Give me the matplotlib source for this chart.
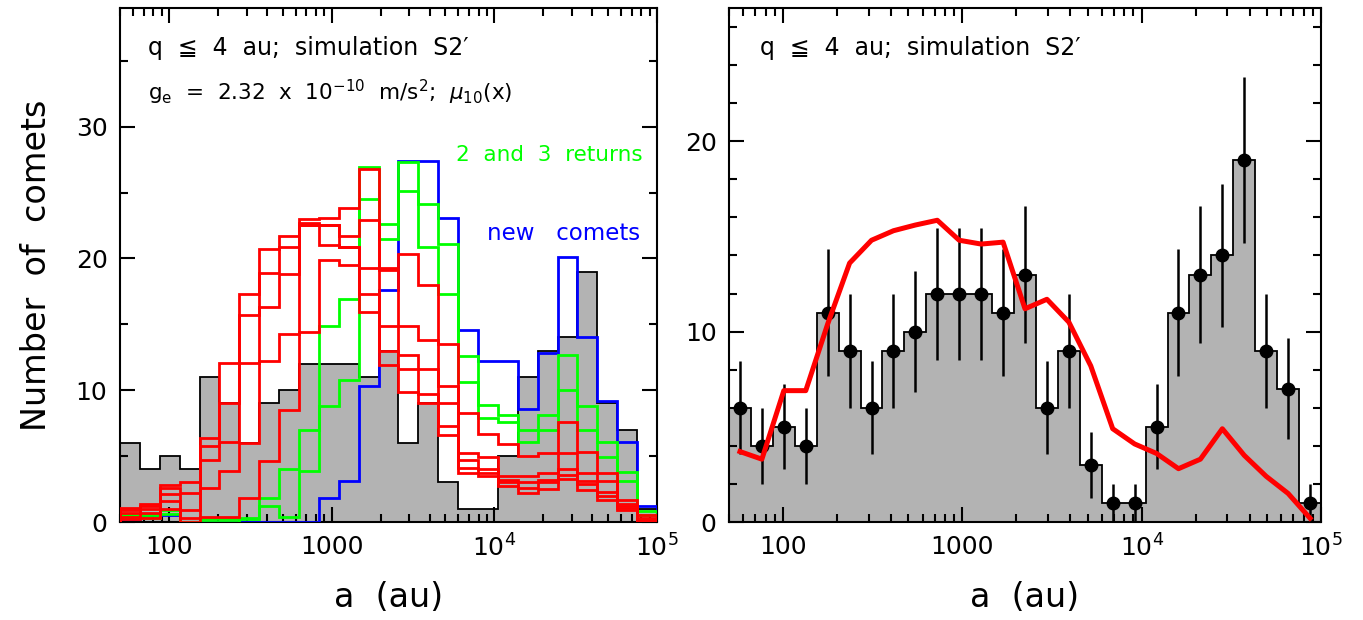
import numpy as np
import matplotlib
matplotlib.use('Agg')
import matplotlib.pyplot as plt
from matplotlib.ticker import FixedLocator, LogLocator, NullFormatter, MultipleLocator

# 27 log bins from 50 au to 1e5 au
edges = np.logspace(np.log10(50), 5, 28)
centers = np.sqrt(edges[:-1] * edges[1:])

observed = [6, 4, 5, 4, 11, 9, 6, 9, 10, 12, 12, 12, 11, 13, 6, 9, 3, 1, 1, 5, 11, 13, 14, 19, 9, 7, 1]

new_comets = [0.2, 0.5, 0.5, 0, 0, 0, 0, 0, 0, 0, 1.8, 3.1, 10.3, 17.6, 27.4, 27.4, 23.1, 14.6,
              12.2, 12.2, 8.6, 12.8, 20.1, 14.0, 9.2, 6.1, 1.2]
returns_2 = [0.5, 0.5, 0.9, 0, 0.2, 0.2, 0.3, 1.8, 4.0, 7.0, 14.9, 16.9, 26.9, 22.6, 27.3, 24.1, 21.1,
             12.6, 8.9, 8.1, 7.0, 8.1, 12.7, 8.8, 6.1, 3.8, 0.8]
returns_3 = [0.3, 0.3, 0.6, 0, 0, 0, 0.2, 1.2, 0.4, 3.9, 8.8, 10.8, 24.5, 21.5, 25.1, 20.9, 17.3,
             10.6, 7.9, 7.6, 6.1, 7.0, 10.0, 7.0, 4.9, 3.1, 0.5]

red_1 = [1.1, 1.4, 2.8, 3.0, 6.4, 12.1, 17.3, 20.7, 21.7, 23.0, 23.1, 23.8, 26.8, 19.3, 20.3, 18.0,
         13.5, 8.3, 6.7, 5.9, 5.0, 5.2, 7.6, 5.3, 3.7, 1.7, 0.5]
red_2 = [0.9, 1.2, 2.6, 2.2, 5.8, 9.0, 15.7, 18.9, 20.9, 22.7, 22.5, 21.7, 22.9, 19.1, 14.9, 13.8,
         10.3, 5.2, 4.9, 3.5, 3.5, 3.7, 5.2, 3.7, 3.1, 1.4, 0.3]
red_3 = [0.7, 1.0, 2.1, 0.9, 4.7, 6.1, 12.1, 16.3, 18.8, 22.5, 22.5, 20.9, 19.3, 14.9, 12.7, 11.6,
         9.0, 4.7, 4.0, 3.2, 3.0, 3.2, 4.0, 3.1, 2.3, 1.2, 0.2]
red_4 = [0.4, 0.7, 1.6, 0.3, 2.6, 3.85, 6.0, 12.2, 14.3, 22.5, 21.0, 20.9, 17.3, 13.0, 11.6, 9.7,
         7.3, 4.1, 3.7, 3.0, 2.6, 3.0, 3.6, 2.9, 2.0, 1.1, 0.1]
red_5 = [0.2, 0.3, 1.0, 0.0, 0.4, 0.4, 1.8, 4.6, 8.5, 14.4, 19.9, 19.5, 15.9, 11.9, 9.9, 9.0,
         6.6, 3.7, 3.5, 2.7, 2.2, 2.5, 3.3, 2.4, 1.7, 0.9, 0.0]

model = [3.7, 3.3, 6.9, 6.9, 10.4, 13.6, 14.8, 15.3, 15.6, 15.85, 14.8, 14.6, 14.7, 11.2, 11.7, 10.5,
         8.2, 4.9, 4.1, 3.6, 2.8, 3.3, 4.9, 3.5, 2.4, 1.5, 0.2]

xticks = [100, 1000, 1e4, 1e5]
xticklabels = ['100', '1000', r'$10^4$', r'$10^5$']

plt.rcParams['font.family'] = ['DejaVu Sans']
plt.rcParams['mathtext.fontset'] = 'dejavusans'

fig = plt.figure(figsize=(13.63, 6.2), dpi=100)
ax1 = fig.add_axes([120 / 1363, 98 / 620, 537 / 1363, 514 / 620])
ax2 = fig.add_axes([729 / 1363, 98 / 620, 592 / 1363, 514 / 620])


def style_axis(ax, ymax, ymajor, yminor):
    ax.set_xscale('log')
    ax.set_xlim(50, 1e5)
    ax.set_ylim(0, ymax)
    ax.xaxis.set_major_locator(FixedLocator(xticks))
    ax.set_xticklabels(xticklabels)
    ax.xaxis.set_minor_locator(LogLocator(base=10, subs=np.arange(2, 10)))
    ax.xaxis.set_minor_formatter(NullFormatter())
    ax.yaxis.set_major_locator(MultipleLocator(ymajor))
    ax.yaxis.set_minor_locator(MultipleLocator(yminor))
    ax.tick_params(which='both', direction='in', top=True, right=True, width=1.5, labelsize=18)
    ax.tick_params(which='major', length=11)
    ax.tick_params(which='minor', length=6)
    ax.tick_params(axis='x', pad=9)
    ax.tick_params(axis='y', pad=9)
    for s in ax.spines.values():
        s.set_linewidth(1.5)
    ax.set_xlabel('a  (au)', fontsize=24, labelpad=14)


# left panel
ax1.stairs(observed, edges, fill=True, color='0.7', zorder=1)
ax1.stairs(observed, edges, color='k', lw=1.3, zorder=2)
ax1.stairs(new_comets, edges, color='#0000ff', lw=2, zorder=3)
ax1.stairs(returns_2, edges, color='#00ff00', lw=2, zorder=4)
ax1.stairs(returns_3, edges, color='#00ff00', lw=2, zorder=4)
for r in [red_1, red_2, red_3, red_4, red_5]:
    ax1.stairs(r, edges, color='#ff0000', lw=2, zorder=5)
style_axis(ax1, 39, 10, 5)
ax1.set_ylabel('Number  of  comets', fontsize=24, labelpad=16)

ax1.text(0.052, 0.922, 'q  \u2266  4  au;  simulation  S2\u2032', transform=ax1.transAxes,
         fontsize=17, va='center', ha='left')
ax1.text(0.052, 0.835, r'$\mathregular{g_e}$  =  2.32  x  10$^{\mathregular{-10}}$  m/s$^\mathregular{2}$;  $\mu_{10}$(x)',
         transform=ax1.transAxes, fontsize=15.5, va='center', ha='left')
ax1.text(0.974, 0.714, '2  and  3  returns', transform=ax1.transAxes, fontsize=15.5,
         color='#00ff00', va='center', ha='right')
ax1.text(0.968, 0.562, 'new   comets', transform=ax1.transAxes, fontsize=16.5,
         color='#0000ff', va='center', ha='right')

# right panel
ax2.stairs(observed, edges, fill=True, color='0.7', zorder=1)
ax2.stairs(observed, edges, color='k', lw=1.3, zorder=2)
ax2.errorbar(centers, observed, yerr=np.sqrt(observed), fmt='o', color='k', ms=9,
             elinewidth=1.8, capsize=0, zorder=3)
ax2.plot(centers, model, color='#ff0000', lw=3.6, zorder=4)
style_axis(ax2, 27, 10, 2)
ax2.text(0.052, 0.922, 'q  \u2266  4  au;  simulation  S2\u2032', transform=ax2.transAxes,
         fontsize=17, va='center', ha='left')

fig.savefig('out.png', dpi=100)
